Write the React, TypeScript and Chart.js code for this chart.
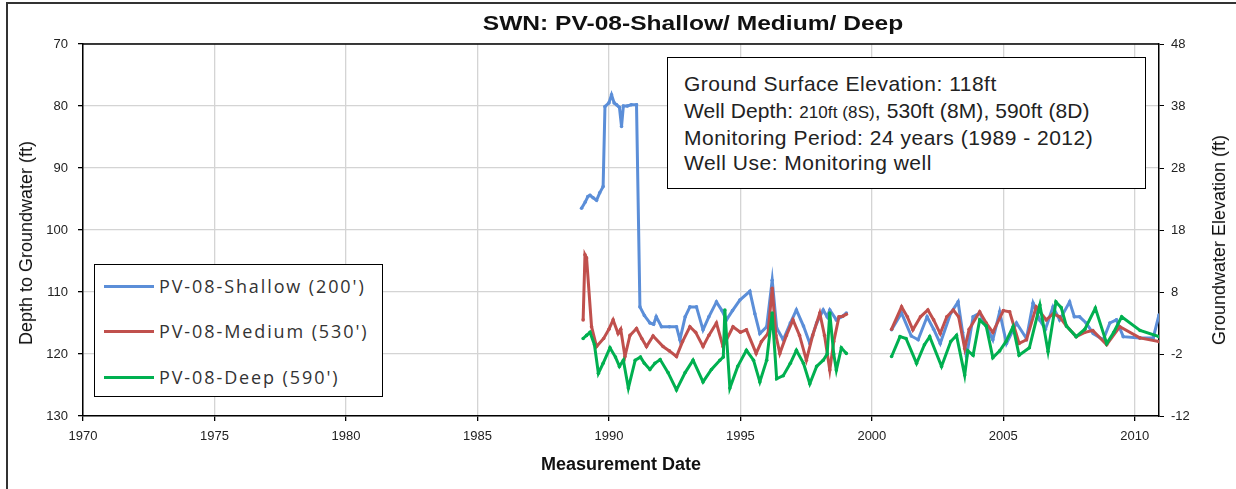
import React, { useEffect, useRef } from "react";
import { Chart, registerables } from "chart.js";
Chart.register(...registerables);

const TITLE = "SWN: PV-08-Shallow/ Medium/ Deep";
const X_TITLE = "Measurement Date";
const Y_TITLE = "Depth to Groundwater (ft)";
const Y2_TITLE = "Groundwater Elevation (ft)";
const SERIES_NAMES = ["PV-08-Shallow (200')", "PV-08-Medium (530')", "PV-08-Deep (590')"];
const SERIES_COLORS = ["#5B8ED8", "#C0504D", "#00B050"];
const INFO_LINES = [
  "Ground Surface Elevation: 118ft",
  "Well Depth: ",
  "Monitoring Period: 24 years (1989 - 2012)",
  "Well Use: Monitoring well",
];
const GROUND_ELEVATION = 118;

const shallowYears = [
  1988.96, 1989.1, 1989.2, 1989.28, 1989.4, 1989.53, 1989.65, 1989.78, 1989.85, 1990.0, 1990.1, 1990.2,
  1990.29, 1990.4, 1990.48, 1990.55, 1990.7, 1990.85, 1991.05, 1991.18, 1991.35, 1991.56, 1991.7, 1991.8,
  1992.0, 1992.3, 1992.57, 1992.7, 1992.9, 1993.08, 1993.33, 1993.58, 1993.8, 1994.09, 1994.3, 1994.47,
  1994.7, 1994.98, 1995.36, 1995.55, 1995.74, 1996.0, 1996.21, 1996.38, 1996.63, 1996.9, 1997.13, 1997.4,
  1997.64, 1997.9, 1998.15, 1998.3, 1998.4, 1998.65, 1998.85, 1999.03, 2000.0,
  2000.75, 2001.13, 2001.5, 2001.76, 2002.1, 2002.35, 2002.6, 2003.0, 2003.28, 2003.45, 2003.6, 2003.85,
  2004.1, 2004.35, 2004.6, 2004.86, 2005.12, 2005.5, 2005.88, 2006.13, 2006.38, 2006.6, 2006.89, 2007.14,
  2007.52, 2007.7, 2007.9, 2008.15, 2008.42, 2008.8, 2009.05, 2009.3, 2009.56, 2010.19, 2010.7, 2010.92,
];
const shallowDepth = [
  96.5, 95.5, 94.6, 94.4, 94.8, 95.2, 94.0, 93.0, 80.1, 79.5, 78.2, 79.5,
  79.8, 80.2, 83.3, 80.0, 80.0, 79.8, 79.8, 112.4, 113.8, 115.0, 115.2, 114.0,
  115.6, 115.6, 115.6, 117.7, 114.0, 112.4, 112.4, 116.1, 114.0, 111.6, 113.0, 114.5,
  113.0, 111.3, 109.9, 113.5, 116.7, 115.6, 108.1, 115.8, 117.7, 115.0, 112.9, 115.5,
  118.3, 115.0, 112.9, 114.0, 112.9, 114.5, 114.0, 113.4, null,
  116.1, 113.4, 117.1, 117.7, 114.0, 116.0, 118.3, 113.4, 111.6, 116.5, 120.4, 114.0,
  113.4, 115.5, 117.7, 113.2, 118.3, 115.0, 117.5, 111.8, 114.5, 116.0, 112.4, 114.5,
  111.6, 114.0, 114.0, 115.0, 116.7, 117.7, 115.0, 114.5, 117.2, 117.4, 117.4, 113.7,
];

const mediumYears = [
  1989.02, 1989.09, 1989.15, 1989.34, 1989.53, 1989.8, 1990.0, 1990.16, 1990.35, 1990.45, 1990.61, 1990.8,
  1991.05, 1991.25, 1991.43, 1991.68, 1992.06, 1992.3, 1992.57, 1992.8, 1993.08, 1993.3, 1993.58, 1993.8,
  1994.09, 1994.34, 1994.72, 1995.0, 1995.23, 1995.6, 1995.8, 1996.05, 1996.21, 1996.35, 1996.5, 1996.75,
  1997.0, 1997.25, 1997.51, 1997.75, 1998.02, 1998.2, 1998.4, 1998.55, 1998.75, 1998.9, 1999.03, 2000.0,
  2000.75, 2001.13, 2001.35, 2001.56, 2001.85, 2002.13, 2002.35, 2002.6, 2002.85, 2003.1, 2003.3, 2003.53,
  2003.7, 2004.1, 2004.35, 2004.6, 2005.0, 2005.24, 2005.6, 2005.88, 2006.25, 2006.63, 2006.9, 2007.14,
  2007.4, 2007.77, 2008.1, 2008.4, 2008.93, 2009.43, 2010.19, 2010.92,
];
const mediumDepth = [
  114.5, 104.0, 104.5, 115.6, 118.8, 117.5, 116.0, 114.5, 116.7, 116.0, 120.4, 117.0,
  115.9, 117.5, 118.8, 117.1, 118.8, 119.5, 120.4, 118.0, 115.6, 116.5, 118.8, 117.0,
  115.0, 118.8, 115.6, 116.5, 116.1, 119.9, 118.0, 116.7, 109.4, 117.0, 119.9, 117.0,
  114.5, 117.0, 121.0, 117.0, 113.4, 117.0, 122.6, 118.0, 114.0, 113.9, 113.6, null,
  116.0, 112.4, 114.0, 116.1, 114.0, 112.9, 114.5, 116.7, 114.0, 112.9, 114.0, 119.1,
  116.0, 113.2, 115.0, 116.5, 113.0, 113.2, 118.3, 117.7, 112.4, 114.5, 113.5, 114.0,
  115.5, 117.2, 116.5, 116.2, 118.5, 115.6, 117.4, 118.0,
];

const deepYears = [
  1989.02, 1989.15, 1989.28, 1989.45, 1989.6, 1989.78, 1990.04, 1990.25, 1990.4, 1990.55, 1990.74, 1991.0,
  1991.2, 1991.35, 1991.56, 1991.75, 1991.95, 1992.25, 1992.57, 1992.9, 1993.2, 1993.58, 1993.9, 1994.22,
  1994.35, 1994.41, 1994.6, 1994.9, 1995.23, 1995.5, 1995.74, 1996.0, 1996.21, 1996.38, 1996.63, 1996.9,
  1997.13, 1997.4, 1997.64, 1997.9, 1998.15, 1998.3, 1998.4, 1998.55, 1998.65, 1998.84, 1999.03, 2000.0,
  2000.75, 2001.07, 2001.3, 2001.7, 2002.0, 2002.2, 2002.65, 2003.0, 2003.22, 2003.53, 2003.65, 2003.85,
  2004.1, 2004.35, 2004.6, 2004.86, 2005.1, 2005.37, 2005.6, 2005.99, 2006.39, 2006.7, 2007.0, 2007.2,
  2007.4, 2007.77, 2008.1, 2008.5, 2008.93, 2009.2, 2009.5, 2010.2, 2010.92,
];
const deepDepth = [
  117.5, 117.0, 116.5, 118.5, 123.1, 121.5, 119.0, 120.5, 122.0, 121.0, 125.5, 121.0,
  120.5, 121.5, 122.5, 121.5, 120.9, 123.0, 125.8, 123.0, 121.0, 124.5, 122.5, 121.0,
  120.5, 112.9, 125.5, 122.0, 119.4, 121.0, 124.5, 121.0, 113.4, 124.0, 123.5, 121.5,
  119.4, 121.5, 124.8, 122.0, 121.0, 120.0, 113.4, 120.0, 122.6, 119.0, 119.9, null,
  120.4, 117.2, 117.5, 121.5, 118.5, 117.2, 122.0, 118.0, 117.0, 123.4, 119.5, 120.2,
  114.5, 115.5, 120.6, 119.5, 118.0, 115.6, 120.2, 119.0, 112.1, 119.6, 111.6, 112.5,
  115.5, 117.2, 116.0, 112.6, 118.3, 116.5, 114.0, 116.2, 117.2,
];

const X_MIN = 1970;
const X_MAX = 2010.92;
const X_STEP = 5;
const Y_MIN = 70;
const Y_MAX = 130;
const Y_STEP = 10;

const TEXT_FONT = "'Liberation Sans', Arial, sans-serif";

function toPoints(xs: number[], ys: (number | null)[]) {
  return xs.map((x, i) => ({ x, y: ys[i] }));
}

const framePlugin = {
  id: "frame",
  afterDraw(chart: any) {
    const { ctx, chartArea } = chart;
    ctx.save();
    ctx.strokeStyle = "#000";
    ctx.lineWidth = 1.5;
    ctx.beginPath();
    ctx.moveTo(chartArea.left, chartArea.top);
    ctx.lineTo(chartArea.right, chartArea.top);
    ctx.stroke();
    ctx.strokeStyle = "#333";
    ctx.lineWidth = 2;
    ctx.beginPath();
    ctx.moveTo(7, 489);
    ctx.lineTo(7, 3);
    ctx.lineTo(1236, 3);
    ctx.stroke();
    ctx.restore();
  },
};

function VerticalTitle({ text, cx, cy }: { text: string; cx: number; cy: number }) {
  return (
    <div style={{ position: "absolute", left: cx, top: cy, width: 0, height: 0 }}>
      <div
        style={{
          position: "absolute",
          left: 0,
          top: 0,
          transform: "translate(-50%, -50%) rotate(-90deg)",
          fontFamily: TEXT_FONT,
          fontSize: 18,
          lineHeight: "20px",
          color: "#111",
          whiteSpace: "nowrap",
        }}
      >
        {text}
      </div>
    </div>
  );
}

export default function App() {
  const canvasRef = useRef<HTMLCanvasElement | null>(null);

  useEffect(() => {
    const canvas = canvasRef.current;
    if (!canvas) return;
    const makeSet = (i: number, xs: number[], ys: (number | null)[], order: number) => ({
      label: SERIES_NAMES[i],
      data: toPoints(xs, ys),
      borderColor: SERIES_COLORS[i],
      backgroundColor: SERIES_COLORS[i],
      borderWidth: 3,
      pointRadius: 1.8,
      pointBorderWidth: 0,
      pointHoverRadius: 0,
      spanGaps: false,
      tension: 0,
      order,
      yAxisID: "y",
    });
    const tickFont = { family: TEXT_FONT, size: 13 };
    const chart = new Chart(canvas, {
      type: "line",
      data: {
        datasets: [
          makeSet(0, shallowYears, shallowDepth, 3),
          makeSet(1, mediumYears, mediumDepth, 2),
          makeSet(2, deepYears, deepDepth, 1),
        ],
      },
      plugins: [framePlugin],
      options: {
        animation: false,
        responsive: false,
        devicePixelRatio: 1,
        layout: { padding: { left: 10, right: 0, top: 44, bottom: 0 } },
        plugins: {
          legend: { display: false },
          title: { display: false },
          tooltip: { enabled: false },
        },
        scales: {
          x: {
            type: "linear",
            min: X_MIN,
            max: X_MAX,
            afterFit: (s: any) => {
              s.height = 73;
            },
            ticks: {
              stepSize: X_STEP,
              includeBounds: false,
              padding: 8,
              maxRotation: 0,
              color: "#222",
              font: tickFont,
              callback: (v: any) => String(v),
            },
            grid: { color: "#D4D4D4", lineWidth: 1.3, tickColor: "#000", tickLength: 5 },
            border: { color: "#000", width: 1.5 },
            title: {
              display: true,
              text: X_TITLE,
              color: "#111",
              font: { family: TEXT_FONT, size: 18, weight: "bold" },
              padding: { top: 0, bottom: 13 },
            },
          },
          y: {
            type: "linear",
            position: "left",
            reverse: true,
            min: Y_MIN,
            max: Y_MAX,
            afterFit: (s: any) => {
              s.width = 73;
            },
            ticks: {
              stepSize: Y_STEP,
              padding: 10,
              color: "#222",
              font: tickFont,
            },
            grid: { color: "#D4D4D4", lineWidth: 1.3, tickColor: "#000", tickLength: 5 },
            border: { color: "#000", width: 1.5 },
            title: { display: false },
          },
          y2: {
            type: "linear",
            position: "right",
            min: GROUND_ELEVATION - Y_MAX,
            max: GROUND_ELEVATION - Y_MIN,
            afterFit: (s: any) => {
              s.width = 77;
            },
            ticks: {
              stepSize: Y_STEP,
              padding: 7,
              color: "#222",
              font: tickFont,
            },
            grid: { drawOnChartArea: false, tickColor: "#000", tickLength: 5 },
            border: { color: "#000", width: 1.5 },
            title: { display: false },
          },
        },
      } as any,
    });
    return () => chart.destroy();
  }, []);

  const legendRows = [21, 66, 112];
  const infoTops = [83, 110, 137, 162];

  return (
    <div style={{ position: "absolute", left: 0, top: 0, width: 1236, height: 489, background: "#fff", overflow: "hidden" }}>
      <canvas ref={canvasRef} width={1236} height={489} style={{ position: "absolute", left: 0, top: 0, width: 1236, height: 489 }} />
      <div style={{ position: "absolute", left: 693, top: 23, width: 0, height: 0 }}>
        <div
          style={{
            position: "absolute",
            left: 0,
            top: 0,
            transform: "translate(-50%, -50%) scaleX(1.17)",
            fontFamily: TEXT_FONT,
            fontWeight: "bold",
            fontSize: 21,
            lineHeight: "26px",
            color: "#111",
            whiteSpace: "nowrap",
          }}
        >
          {TITLE}
        </div>
      </div>
      <VerticalTitle text={Y_TITLE} cx={26} cy={243} />
      <VerticalTitle text={Y2_TITLE} cx={1219} cy={240} />
      <div
        style={{
          position: "absolute",
          left: 94,
          top: 264,
          width: 289,
          height: 133,
          boxSizing: "border-box",
          border: "1.5px solid #000",
          background: "#fff",
        }}
      >
        {SERIES_NAMES.map((name, i) => (
          <div key={name} style={{ position: "absolute", left: 0, top: legendRows[i] - 12, height: 24, width: 289 }}>
            <div style={{ position: "absolute", left: 9, top: 10.5, width: 50, height: 3, background: SERIES_COLORS[i] }} />
            <div
              style={{
                position: "absolute",
                left: 64,
                top: 0,
                lineHeight: "24px",
                fontFamily: "'Open Sans', sans-serif",
                fontSize: 18,
                letterSpacing: 1.9,
                color: "#333",
                whiteSpace: "nowrap",
              }}
            >
              {name}
            </div>
          </div>
        ))}
      </div>
      <div
        style={{
          position: "absolute",
          left: 667,
          top: 57,
          width: 479,
          height: 132,
          boxSizing: "border-box",
          border: "1.5px solid #000",
          background: "#fff",
        }}
      >
        {INFO_LINES.map((line, i) => (
          <div
            key={i}
            style={{
              position: "absolute",
              left: 16,
              top: infoTops[i] - 57 - 13,
              lineHeight: "26px",
              fontFamily: TEXT_FONT,
              fontSize: 21,
              letterSpacing: i === 1 ? 0.1 : 0.5,
              color: "#222",
              whiteSpace: "nowrap",
            }}
          >
            {line}
            {i === 1 ? (
              <>
                <span style={{ fontSize: 17 }}>210ft (8S)</span>, 530ft (8M), 590ft (8D)
              </>
            ) : null}
          </div>
        ))}
      </div>
    </div>
  );
}
